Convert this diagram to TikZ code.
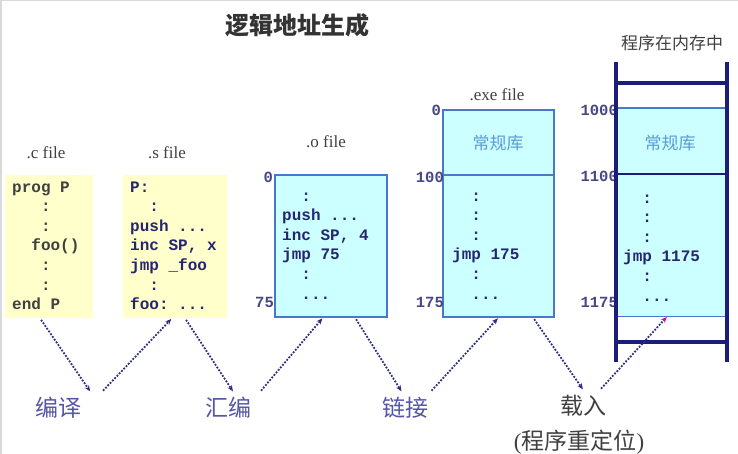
\documentclass[tikz,border=0pt]{standalone}
\usepackage{fontspec}
\setmainfont{Liberation Serif}
\setmonofont{Liberation Mono}
\newfontfamily\cjk{Noto Sans CJK SC}
\usetikzlibrary{arrows.meta}

\definecolor{jaune}{HTML}{FFFFCC}
\definecolor{cyanclair}{HTML}{CCFFFF}
\definecolor{bordbleu}{HTML}{4A78C8}
\definecolor{marine}{HTML}{1C1C7A}
\definecolor{encre}{HTML}{262670}
\definecolor{gristexte}{HTML}{404040}
\definecolor{violetlabel}{HTML}{5555A8}
\definecolor{bleulib}{HTML}{5B9BD5}
\definecolor{bleufleche}{HTML}{2E2E80}

\tikzset{
  code/.style={anchor=base west, align=left, inner sep=0pt, text=encre,
    font=\ttfamily\bfseries\fontsize{16}{19.6}\selectfont},
  adresse/.style={anchor=east, inner sep=0pt, text=encre!85,
    font=\ttfamily\bfseries\fontsize{15.5}{16}\selectfont},
  fichier/.style={inner sep=0pt, text=gristexte, font=\fontsize{17}{19}\selectfont},
  etape/.style={inner sep=5pt, text=violetlabel, font=\cjk\fontsize{23}{26}\selectfont},
  etapefleche/.style={dash pattern=on 1.8pt off 1.5pt, line width=1.8pt, color=bleufleche,
    -{Stealth[length=6pt,width=5pt]}, shorten <=2pt, shorten >=1pt},
  boite/.style={inner sep=0pt, minimum width=#1}
}

\begin{document}
\begin{tikzpicture}[x=1pt, y=-1pt]

    \fill[white] (0,0) rectangle (738,454);
    \useasboundingbox (0,0) rectangle (738,454);
    \draw[gray!30, line width=1.5pt] (0.75,454) -- (0.75,0.75) -- (738,0.75);

    \node (titre) [font=\cjk\bfseries\fontsize{24}{28}\selectfont, text=black!80] at (297.5,25) {逻辑地址生成};

    % les fichiers source (base = derniere ligne)
    \node (cbox) [boite=88pt, fill=jaune, minimum height=143pt] at (49,246.5) {};
    \node (sbox) [boite=104pt, fill=jaune, minimum height=143pt] at (175,246.5) {};
    \node (clabel) [fichier] at (46,153) {.c file};
    \node (slabel) [fichier] at (167,153) {.s file};

    \node (ctext) [code, text=gristexte] at (12,309.6) {prog P\\\hphantom{xxx}:\\\hphantom{xxx}:\\\hphantom{xx}foo()\\\hphantom{xxx}:\\\hphantom{xxx}:\\end P};
    \node (stext) [code] at (130,309.6) {P:\\\hphantom{xx}:\\push ...\\inc SP, x\\jmp \_foo\\\hphantom{xx}:\\foo: ...};

    % le fichier objet
    \node (obox) [boite=112pt, fill=cyanclair, draw=bordbleu, line width=1.2pt, minimum height=142pt] at (331,246) {};
    \node (olabel) [fichier] at (326,142) {.o file};
    \node (o0) [adresse] at (273,177) {0};
    \node (o75) [adresse] at (274,302) {75};
    \node (otext) [code] at (282,299) {\hphantom{xx}:\\push ...\\inc SP, 4\\jmp 75\\\hphantom{xx}:\\\hphantom{xx}...};

    % l'executable
    \node (exebox) [boite=111pt, fill=cyanclair, draw=bordbleu, line width=1.2pt, minimum height=207pt] at (498.5,213.5) {};
    \draw[bordbleu, line width=1.2pt] (exebox.west |- 0,175) -- (exebox.east |- 0,175);
    \node (exelabel) [fichier] at (497,95) {.exe file};
    \node (lib1) [font=\cjk\fontsize{17}{20}\selectfont, text=bleulib] at (498,143) {常规库};
    \node (e0) [adresse] at (441,110) {0};
    \node (e100) [adresse] at (444,177) {100};
    \node (e175) [adresse] at (444,302) {175};
    \node (exetext) [code] at (452,299) {\hphantom{xx}:\\\hphantom{xx}:\\\hphantom{xx}:\\jmp 175\\\hphantom{xx}:\\\hphantom{xx}...};

    % la memoire
    \node (mem) [boite=111pt, fill=cyanclair, minimum height=208pt] at (671.5,212) {};
    \draw[bordbleu, line width=1.8pt] (mem.north west) -- (mem.north east);
    \draw[marine, line width=1.6pt] (mem.west |- 0,174) -- (mem.east |- 0,174);
    \draw[bordbleu, line width=1.2pt] (mem.south west) -- (mem.south east);
    \node (memlabel) [fichier, font=\cjk\fontsize{17}{20}\selectfont] at (672,43) {程序在内存中};
    \node (lib2) [font=\cjk\fontsize{17}{20}\selectfont, text=bleulib] at (670,143) {常规库};
    \node (m1000) [adresse] at (618,110) {1000};
    \node (m1100) [adresse] at (618,176) {1100};
    \node (m1175) [adresse] at (618,302) {1175};
    \node (memtext) [code] at (623,301) {\hphantom{xx}:\\\hphantom{xx}:\\\hphantom{xx}:\\jmp 1175\\\hphantom{xx}:\\\hphantom{xx}...};

    \draw[marine, line width=3.5pt] (616,62) -- (616,362);
    \draw[marine, line width=3.5pt] (727,62) -- (727,362);
    \draw[marine, line width=3.5pt] (616,83) -- (727,83);
    \draw[marine, line width=3.5pt] (616,342) -- (727,342);

    % les etapes
    \node (bianyi) [etape] at (58.5,408) {编译};
    \node (huibian) [etape] at (228.5,408) {汇编};
    \node (lianjie) [etape] at (405,408) {链接};
    \node (zairu) [etape, text=gristexte] at (583.5,406) {载入};
    \node (reloc) [etape, text=gristexte, inner sep=0pt] at (579,442) {{\rmfamily(}程序重定位{\rmfamily)}};

    % Dessiner les fleches
    \draw[etapefleche] ([xshift=-9pt]cbox.south) -- ([xshift=4pt]bianyi.north east);
    \draw[etapefleche] ([xshift=15pt]bianyi.north east) -- ([xshift=-3pt]sbox.south);
    \draw[etapefleche] ([xshift=10pt]sbox.south) -- ([xshift=5pt]huibian.north);
    \draw[etapefleche] ([xshift=3pt]huibian.north east) -- ([xshift=-8pt]obox.south);
    \draw[etapefleche] ([xshift=24pt]obox.south) -- ([xshift=-3pt]lianjie.north);
    \draw[etapefleche] ([xshift=-3pt]lianjie.north east) -- (exebox.south);
    \draw[etapefleche] ([xshift=34.5pt]exebox.south) -- (zairu.north);
    \draw[etapefleche, -{Stealth[length=6pt,width=5pt,color=magenta]}] ([xshift=-12pt]zairu.north east) -- ([xshift=-4pt]mem.south);

\end{tikzpicture}
\end{document}
